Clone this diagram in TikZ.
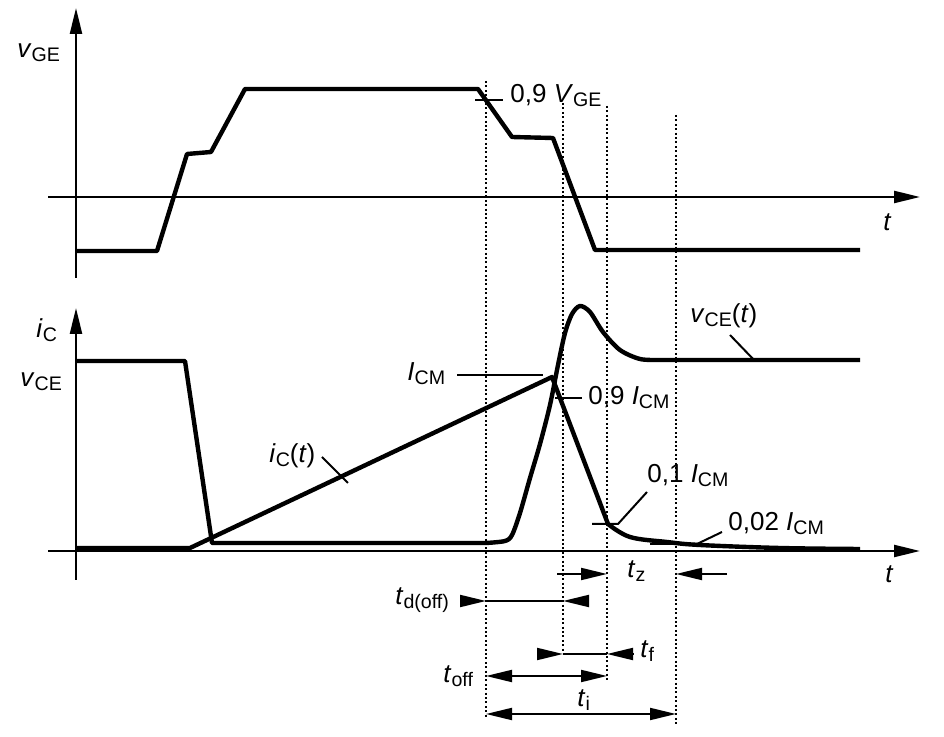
\documentclass[tikz,border=0pt]{standalone}
\usepackage{fontspec}
\setmainfont{Liberation Sans}
\usetikzlibrary{arrows.meta}
\newcommand{\lblsize}{\fontsize{13}{15}\selectfont}
\newcommand{\varsub}[2]{\textit{#1}\raisebox{-1.7pt}{\fontsize{9.8}{11}\selectfont #2}}
\newcommand{\drawcurve}{\draw[line width=2.2pt, line join=round]}
\newcommand{\drawaxis}{\draw[line width=1.2pt, ->]}
\newcommand{\drawleader}{\draw[line width=1pt]}
\tikzset{
  marker/.style={line width=0.9pt, dash pattern=on 1pt off 1.2pt},
  timespan/.style={line width=1pt},
  lbl/.style={anchor=base west, inner sep=0pt, font=\lblsize}
}

\begin{document}
\begin{tikzpicture}[x=0.5pt, y=-0.5pt, >={Triangle[length=13pt,width=6pt]}]
\useasboundingbox (0,0) rectangle (944,737);
% axes
\drawaxis (76,278) -- (76,8);
\drawaxis (48,197) -- (920,197);
\drawaxis (76,580) -- (76,308);
\drawaxis (48,551) -- (920,551);
\node[lbl] (vgeaxis) at (17,58) {\varsub{v}{GE}};
\node[lbl] (ttop) at (883,231) {\textit{t}};
\node[lbl] (icaxis) at (36,338) {\varsub{i}{C}};
\node[lbl] (vceaxis) at (20,387) {\varsub{v}{CE}};
\node[lbl] (tbot) at (885,583) {\textit{t}};
% dotted time marks
\foreach \x/\ya/\yb in {486/81/718, 563/103/652, 607/106/680, 676/115/725}
  \draw[marker] (\x,\ya) -- (\x,\yb);
% gate voltage
\drawcurve (76,251) -- (157,251) -- (187,154) -- (211,152) -- (245,89) -- (478,89)
  -- (512,137) -- (553,138) -- (595,250) -- (860,250);
% collector-emitter voltage
\drawcurve (76,361) -- (185,361) -- (212,543) -- (486,543)
  -- plot[smooth, tension=0.5] coordinates {(486,543) (505,541) (512,535) (520,513)
  (530,478) (540,444) (550,405) (558,365) (565,333) (572,314) (580,306) (590,312)
  (603,332) (620,350) (640,359) (660,360)} -- (860,360);
% collector current
\drawcurve (76,548) -- (190,548) -- (552,377) -- (608,524)
  -- plot[smooth, tension=0.6] coordinates {(608,524) (630,537) (667,542) (700,545)
  (780,548) (860,549)};
% level labels
\node[lbl] (vge90) at (510,103) {0,9 \varsub{V}{GE}};
\drawleader (475,100) -- (503,100);
\node[lbl] (icm) at (407,381) {\varsub{I}{CM}};
\drawleader (457,375) -- (543,375);
\node[lbl] (icm90) at (588,405) {0,9 \varsub{I}{CM}};
\drawleader (555,398) -- (582,398);
\node[lbl] (icm10) at (647,483) {0,1 \varsub{I}{CM}};
\drawleader (592,524) -- (618,524) -- (647,492);
\node[lbl] (icm02) at (728,531) {0,02 \varsub{I}{CM}};
\drawleader (650,544) -- (697,544) -- (722,532);
\node[lbl] (iclbl) at (269,463) {\varsub{i}{C}(\textit{t})};
\drawleader (322,457) -- (348,483);
\node[lbl] (vcelbl) at (690,323) {\varsub{v}{CE}(\textit{t})};
\drawleader (730,335) -- (755,361);
% time intervals
\draw[timespan, ->] (557,574) -- (607,574);
\draw[timespan, ->] (727,574) -- (676,574);
\node[lbl] (tz) at (627,578) {\varsub{t}{z}};
\draw[timespan, ->] (462,601) -- (486,601);
\draw[timespan] (486,601) -- (563,601);
\draw[timespan, ->] (588,601) -- (563,601);
\node[lbl] (tdoff) at (395,605) {\varsub{t}{d(off)}};
\draw[timespan, ->] (541,654) -- (563,654);
\draw[timespan] (563,654) -- (607,654);
\draw[timespan, ->] (633,654) -- (607,654);
\node[lbl] (tf) at (640,658) {\varsub{t}{f}};
\draw[timespan, <->] (486,676) -- (607,676);
\node[lbl] (toff) at (443,683) {\varsub{t}{off}};
\draw[timespan, <->] (486,714) -- (676,714);
\node[lbl] (ti) at (577,707) {\varsub{t}{i}};
\end{tikzpicture}
\end{document}
